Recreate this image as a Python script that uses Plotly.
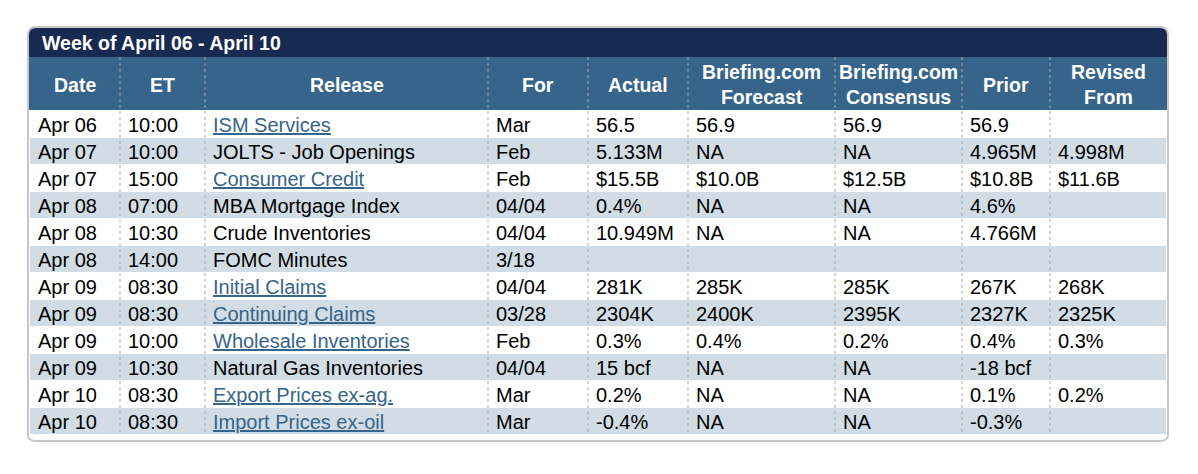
import plotly.graph_objects as go

title = "Week of April 06 - April 10"
cols = ["Date", "ET", "Release", "For", "Actual", "Briefing.com<br>Forecast",
        "Briefing.com<br>Consensus", "Prior", "Revised<br>From"]
edges = [30, 120, 205, 488, 588, 688, 835, 962, 1050, 1166]
rows = [
    ["Apr 06", "10:00", "ISM Services", "Mar", "56.5", "56.9", "56.9", "56.9", ""],
    ["Apr 07", "10:00", "JOLTS - Job Openings", "Feb", "5.133M", "NA", "NA", "4.965M", "4.998M"],
    ["Apr 07", "15:00", "Consumer Credit", "Feb", "$15.5B", "$10.0B", "$12.5B", "$10.8B", "$11.6B"],
    ["Apr 08", "07:00", "MBA Mortgage Index", "04/04", "0.4%", "NA", "NA", "4.6%", ""],
    ["Apr 08", "10:30", "Crude Inventories", "04/04", "10.949M", "NA", "NA", "4.766M", ""],
    ["Apr 08", "14:00", "FOMC Minutes", "3/18", "", "", "", "", ""],
    ["Apr 09", "08:30", "Initial Claims", "04/04", "281K", "285K", "285K", "267K", "268K"],
    ["Apr 09", "08:30", "Continuing Claims", "03/28", "2304K", "2400K", "2395K", "2327K", "2325K"],
    ["Apr 09", "10:00", "Wholesale Inventories", "Feb", "0.3%", "0.4%", "0.2%", "0.4%", "0.3%"],
    ["Apr 09", "10:30", "Natural Gas Inventories", "04/04", "15 bcf", "NA", "NA", "-18 bcf", ""],
    ["Apr 10", "08:30", "Export Prices ex-ag.", "Mar", "0.2%", "NA", "NA", "0.1%", "0.2%"],
    ["Apr 10", "08:30", "Import Prices ex-oil", "Mar", "-0.4%", "NA", "NA", "-0.3%", ""],
]
links = {"ISM Services", "Consumer Credit", "Initial Claims", "Continuing Claims",
         "Wholesale Inventories", "Export Prices ex-ag.", "Import Prices ex-oil"}

navy = "#162a52"
steel = "#36648a"
alt = "#d1dce5"
font = "Liberation Sans, Arial"
head_top, head_bot, row_h = 57, 110, 27
bottom = head_bot + row_h * len(rows)

fig = go.Figure()
shapes = []
# outer grey border with rounded corners
shapes.append(dict(type="path", layer="below",
    path=f"M 36 27 L 1160 27 Q 1168 27 1168 35 L 1168 {bottom+1} Q 1168 {bottom+7} 1160 {bottom+7} "
         f"L 36 {bottom+7} Q 28 {bottom+7} 28 {bottom+1} L 28 35 Q 28 27 36 27 Z",
    line=dict(color="#c8c8c8", width=2), fillcolor="white"))
# title bar
shapes.append(dict(type="path", layer="below",
    path=f"M 36 28 L 1160 28 Q 1167 28 1167 35 L 1167 {head_top} L 29 {head_top} L 29 35 Q 29 28 36 28 Z",
    line=dict(width=0), fillcolor=navy))
shapes.append(dict(type="rect", layer="below", x0=29, x1=1167, y0=head_top, y1=head_bot,
                   line=dict(width=0), fillcolor=steel))
for i in range(len(rows)):
    if i % 2 == 1:
        y0 = head_bot + row_h * i + 1
        shapes.append(dict(type="rect", x0=30, x1=1166, y0=y0, y1=y0 + row_h - 1,
                           line=dict(width=0), fillcolor=alt, layer="below"))
for x in edges[1:-1]:
    shapes.append(dict(type="line", x0=x, x1=x, y0=head_top, y1=bottom,
                       line=dict(color="#a9a9a9", width=1, dash="dot")))

ann = [dict(x=40, y=(28 + head_top) / 2, text=f"<b>{title}</b>", showarrow=False,
            xanchor="left", font=dict(color="white", size=19.5, family=font))]
for j, c in enumerate(cols):
    ann.append(dict(x=(edges[j] + edges[j + 1]) / 2, y=(head_top + head_bot) / 2 + 1,
                    text=f"<b>{c}</b>", showarrow=False, font=dict(color="white", size=19.5, family=font)))
for i, r in enumerate(rows):
    yc = head_bot + row_h * i + row_h / 2 + 1
    for j, v in enumerate(r):
        if not v:
            continue
        color = "black"
        if j == 2 and v in links:
            v = f"<u>{v}</u>"
            color = steel
        ann.append(dict(x=edges[j] + 6, y=yc, text=v, showarrow=False, xanchor="left",
                        font=dict(color=color, size=20, family=font)))

# page body adds an 8px margin, so shift the ranges
fig.update_layout(width=1198, height=474, margin=dict(l=0, r=0, t=0, b=0),
                  plot_bgcolor="white", paper_bgcolor="white", shapes=shapes, annotations=ann,
                  xaxis=dict(range=[8, 1206], visible=False, fixedrange=True),
                  yaxis=dict(range=[482, 8], visible=False, fixedrange=True),
                  showlegend=False)
fig.write_html("out.html", config={"displayModeBar": False})
